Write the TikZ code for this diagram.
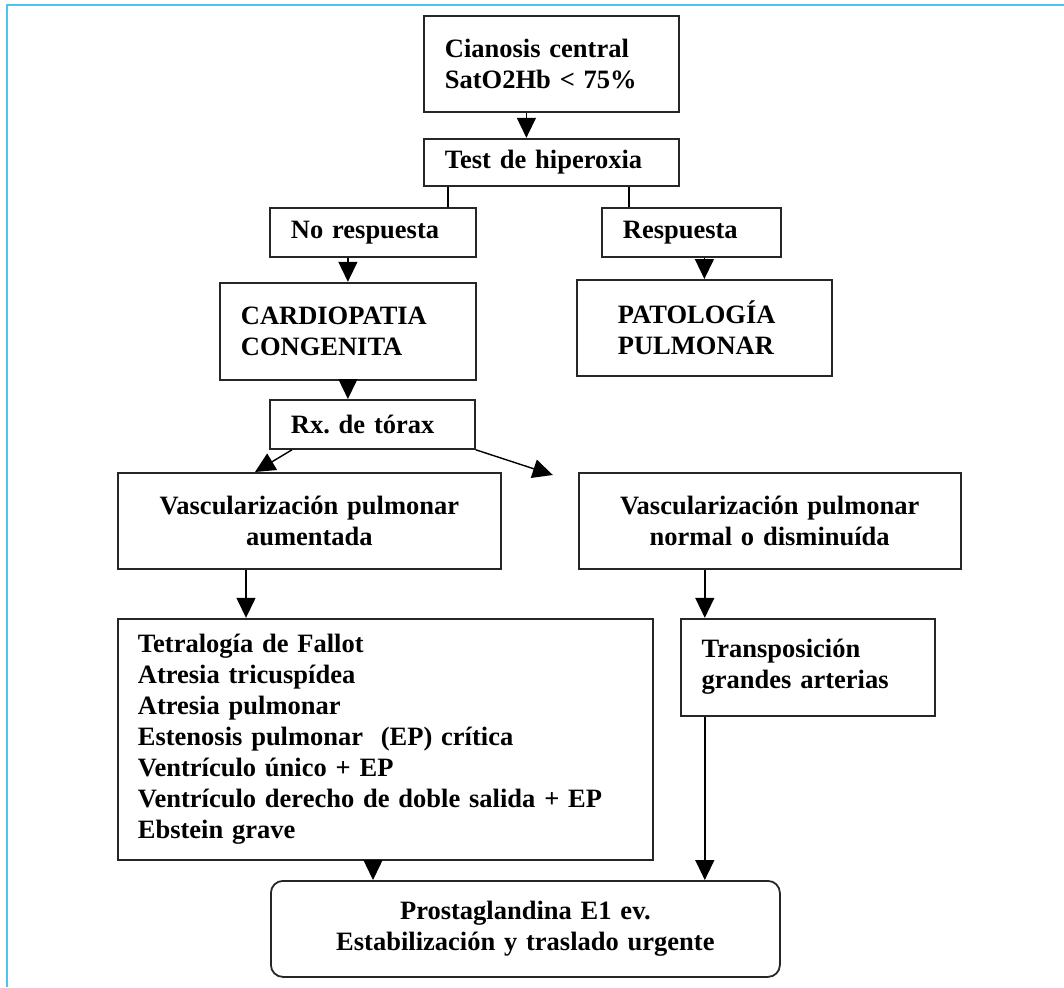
\documentclass[tikz,border=0pt]{standalone}
\usepackage{fontspec}
\setmainfont{Liberation Serif}
\usepackage{xcolor}
\usepackage{tikz}
\usetikzlibrary{arrows.meta, positioning, calc}
\definecolor{cFrame}{HTML}{4EC3F0}
\frenchspacing
\tikzstyle{box}   = [rectangle, draw=black!85, line width=1.8pt, align=left, inner xsep=21pt, inner ysep=3pt, font=\fontsize{26.5}{31}\selectfont\bfseries]
\tikzstyle{cbox}  = [box, align=center, inner xsep=0pt]
\tikzstyle{arrow} = [line width=1.4pt, -{Triangle[length=20pt,width=19pt]}]
\tikzstyle{link}  = [line width=1.4pt]

\begin{document}
\begin{tikzpicture}[x=1pt, y=-1pt]
\useasboundingbox (0,0) rectangle (1064,987);
\draw [cFrame, line width=2.5pt] (7,987) -- (7,5) -- (1064,5);

\node (cian) [box, text width=213pt, minimum height=96pt, anchor=north west] at (423,15)
  {Cianosis central\\ SatO2Hb < 75\%};
\node (test) [box, text width=213pt, minimum height=47pt, below=25pt of cian] {Test de hiperoxia};
\node (nores) [box, text width=164pt, minimum height=49pt, anchor=north west] at (269,207) {No respuesta};
\node (resp) [box, text width=137pt, minimum height=49pt, anchor=north west] at (601,207) {Respuesta};
\node (cardio) [box, text width=214pt, minimum height=97pt, below left=24pt and 0pt of nores.south east]
  {CARDIOPATIA\\ CONGENITA};
\node (patol) [box, inner xsep=41pt, text width=173pt, minimum height=96pt, anchor=north west] at (576,279)
  {PATOLOGÍA\\ PULMONAR};
\node (rx) [box, text width=163pt, minimum height=49pt, anchor=north west] at (269,399) {Rx. de tórax};
\node (vaum) [cbox, text width=383pt, minimum height=96pt, anchor=north west] at (117,472)
  {Vascularización pulmonar\\ aumentada};
\node (vnorm) [cbox, text width=382pt, minimum height=96pt, right=76pt of vaum]
  {Vascularización pulmonar\\ normal o disminuída};
\node (tetra) [box, inner xsep=20pt, text width=495pt, minimum height=241pt, below right=48pt and 0pt of vaum.south west]
  {Tetralogía de Fallot\\ Atresia tricuspídea\\ Atresia pulmonar\\ Estenosis pulmonar\ \ (EP) crítica\\
   Ventrículo único + EP\\ Ventrículo derecho de doble salida + EP\\ Ebstein grave};
\node (trans) [box, text width=212pt, minimum height=97pt, below right=0pt and 26pt of tetra.north east]
  {Transposición\\ grandes arterias};
\node (prost) [cbox, rounded corners=12pt, text width=509pt, minimum height=96pt, anchor=north west] at (270,880)
  {Prostaglandina E1 ev.\\ Estabilización y traslado urgente};

% connector ends
\coordinate (tL) at ([xshift=25pt]test.south west);
\coordinate (tR) at ([xshift=-51pt]test.south east);
\coordinate (vA) at ([xshift=129pt]vaum.south west);
\coordinate (vB) at ([xshift=127pt]vnorm.south west);
\coordinate (tB) at ([xshift=256pt]tetra.south west);
\coordinate (trB) at ([xshift=25pt]trans.south west);
\coordinate (rxEnd) at ([xshift=-25pt, yshift=-3pt]vnorm.north west);

\draw [arrow] ([xshift=-25pt]cian.south) -- ([xshift=-25pt]test.north);
\draw [link] (tL) -- (tL |- nores.north);
\draw [link] (tR) -- (tR |- resp.north);
\draw [arrow] (nores.south -| cardio.north) -- (cardio.north);
\draw [arrow] (resp.south -| patol.north) -- (patol.north);
\draw [arrow] (cardio.south) -- (cardio.south |- rx.north);
\draw [arrow] ([xshift=23pt]rx.south west) -- ([xshift=138pt]vaum.north west);
\draw [arrow] (rx.south east) -- (rxEnd);
\draw [arrow] (vA) -- (vA |- tetra.north);
\draw [arrow] (vB) -- (vB |- trans.north);
\draw [arrow] (tB) -- (tB |- prost.north);
\draw [arrow] (trB) -- (trB |- prost.north);
\end{tikzpicture}
\end{document}
